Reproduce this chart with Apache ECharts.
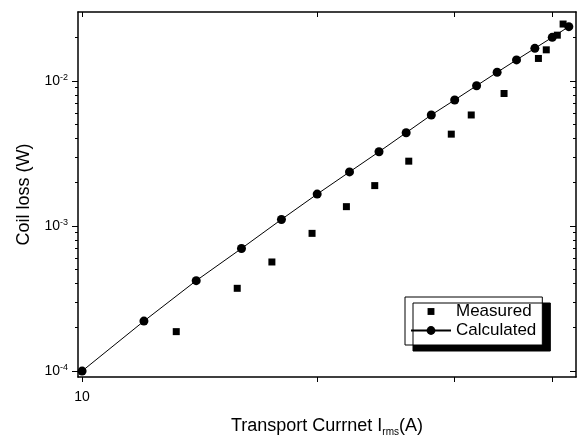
<!DOCTYPE html>
<html>
<head>
<meta charset="utf-8">
<script src="https://cdn.jsdelivr.net/npm/echarts@6/dist/echarts.min.js"></script>
<style>
html,body{margin:0;padding:0;background:#fff;}
#chart{width:581px;height:437px;}
</style>
</head>
<body>
<div id="chart"></div>
<script>
// ---- data ----
const calcCurrent = [10, 12, 14, 16, 18, 20, 22, 24, 26, 28, 30, 32, 34, 36, 38, 40, 42];
const calcLoss = [1.0e-4, 2.21e-4, 4.2e-4, 7.0e-4, 1.11e-3, 1.66e-3, 2.36e-3, 3.25e-3, 4.4e-3, 5.83e-3, 7.4e-3, 9.28e-3, 1.148e-2, 1.398e-2, 1.68e-2, 2.0e-2, 2.37e-2];
const measCurrent = [13.2, 15.8, 17.5, 19.7, 21.8, 23.7, 26.2, 29.7, 31.5, 34.7, 38.4, 39.3, 40.6, 41.3];
const measLoss = [1.87e-4, 3.72e-4, 5.65e-4, 8.9e-4, 1.36e-3, 1.90e-3, 2.8e-3, 4.3e-3, 5.83e-3, 8.2e-3, 1.43e-2, 1.64e-2, 2.07e-2, 2.47e-2];

// ---- axis ticks / labels ----
const xTickValues = [10, 20, 30, 40];
const xLabelValues = [10];
const yLabelValues = [1e-4, 1e-3, 1e-2];
const yMinorValues = [2e-4, 3e-4, 4e-4, 5e-4, 6e-4, 7e-4, 8e-4, 9e-4,
                      2e-3, 3e-3, 4e-3, 5e-3, 6e-3, 7e-3, 8e-3, 9e-3,
                      2e-2];
const xMin = 9.88, xMax = 42.9;
const yMin = 9.1e-5, yMax = 0.0299;

const FONT = '"Liberation Sans", Arial, Helvetica, sans-serif';
const zip = (a, b) => a.map((v, i) => [v, b[i]]);

const chart = echarts.init(document.getElementById('chart'), null, {renderer: 'canvas'});

const lineBlack = {show: true, lineStyle: {color: '#000', width: 1.5}};

const option = {
  animation: false,
  backgroundColor: '#fff',
  grid: {left: 78, right: 5, top: 12, bottom: 60, containLabel: false, outerBoundsMode: 'none'},
  legend: {
    orient: 'vertical',
    left: 405, top: 297,
    itemWidth: 40, itemHeight: 11, itemGap: 2,
    padding: [6, 6, 6, 5],
    backgroundColor: '#fff',
    borderColor: '#000', borderWidth: 1,
    shadowColor: '#000', shadowBlur: 0, shadowOffsetX: 8, shadowOffsetY: 6,
    textStyle: {fontFamily: FONT, fontSize: 17, color: '#000'},
    data: [
      {name: 'Measured', icon: 'path://M-0.3,-0.3M0,0L1,0L1,1L0,1ZM1.3,1.3', itemStyle: {opacity: 1}},
      {name: 'Calculated'}
    ]
  },
  xAxis: [
    {
      type: 'log', logBase: 10, min: xMin, max: xMax, position: 'bottom',
      axisLine: lineBlack,
      axisTick: {show: true, inside: false, length: 5, customValues: xTickValues, lineStyle: {color: '#000', width: 1}},
      axisLabel: {show: true, customValues: xLabelValues, margin: 13, color: '#000', fontFamily: FONT, fontSize: 14,
                  formatter: v => String(Math.round(v))},
      splitLine: {show: false}, minorTick: {show: false}, minorSplitLine: {show: false},
      name: '{n|Transport Currnet I}{sub|rms}{n|(A)}',
      nameLocation: 'middle', nameGap: 38,
      nameTextStyle: {
        fontFamily: FONT, fontSize: 18, color: '#000',
        rich: {
          n: {fontFamily: FONT, fontSize: 18, color: '#000', lineHeight: 22},
          sub: {fontFamily: FONT, fontSize: 10, color: '#000', lineHeight: 22, verticalAlign: 'bottom'}
        }
      }
    },
    {
      type: 'log', logBase: 10, min: xMin, max: xMax, position: 'top',
      axisLine: lineBlack,
      axisTick: {show: true, inside: true, length: 5, customValues: xTickValues, lineStyle: {color: '#000', width: 1}},
      axisLabel: {show: false},
      splitLine: {show: false}
    }
  ],
  yAxis: [
    {
      type: 'log', logBase: 10, min: yMin, max: yMax, position: 'left',
      axisLine: lineBlack,
      axisTick: {show: true, inside: false, length: 6, customValues: yLabelValues, lineStyle: {color: '#000', width: 1}},
      axisLabel: {show: true, customValues: yLabelValues, margin: 10, color: '#000',
        formatter: v => '{b|10}{s|' + Math.round(Math.log10(v)) + '}',
        rich: {
          b: {fontFamily: FONT, fontSize: 14, color: '#000', lineHeight: 16},
          s: {fontFamily: FONT, fontSize: 9, color: '#000', lineHeight: 16, verticalAlign: 'top'}
        }
      },
      splitLine: {show: false},
      name: 'Coil loss (W)', nameLocation: 'middle', nameGap: 45, nameRotate: 90,
      nameTextStyle: {fontFamily: FONT, fontSize: 18, color: '#000'}
    },
    {
      type: 'log', logBase: 10, min: yMin, max: yMax, position: 'left',
      axisLine: {show: false},
      axisTick: {show: true, inside: false, length: 3, customValues: yMinorValues, lineStyle: {color: '#000', width: 1}},
      axisLabel: {show: false}, splitLine: {show: false}
    },
    {
      type: 'log', logBase: 10, min: yMin, max: yMax, position: 'right',
      axisLine: lineBlack,
      axisTick: {show: true, inside: true, length: 6, customValues: yLabelValues, lineStyle: {color: '#000', width: 1}},
      axisLabel: {show: false}, splitLine: {show: false}
    },
    {
      type: 'log', logBase: 10, min: yMin, max: yMax, position: 'right',
      axisLine: {show: false},
      axisTick: {show: true, inside: true, length: 3, customValues: yMinorValues, lineStyle: {color: '#000', width: 1}},
      axisLabel: {show: false}, splitLine: {show: false}
    }
  ],
  series: [
    {
      name: 'Measured', type: 'scatter', xAxisIndex: 0, yAxisIndex: 0,
      symbol: 'rect', symbolSize: 7,
      itemStyle: {color: '#000', opacity: 1},
      data: zip(measCurrent, measLoss), z: 3
    },
    {
      name: 'Calculated', type: 'line', xAxisIndex: 0, yAxisIndex: 0,
      symbol: 'circle', symbolSize: 9, showAllSymbol: true,
      itemStyle: {color: '#000', opacity: 1},
      lineStyle: {color: '#000', width: 1},
      data: zip(calcCurrent, calcLoss), z: 4
    }
  ]
};
chart.setOption(option);
</script>
</body>
</html>
